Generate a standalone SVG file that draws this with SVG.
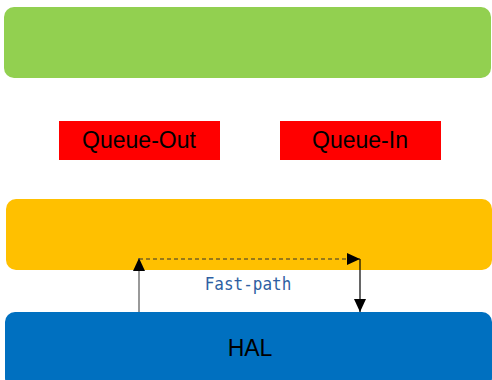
<svg xmlns="http://www.w3.org/2000/svg" width="492" height="380" viewBox="0 0 492 380">
<style>
.lbl{font-family:"Liberation Sans",Arial,sans-serif;font-size:23px;fill:#000;text-anchor:middle}
.fp{font-family:"DejaVu Sans Mono",monospace;font-size:16px;fill:#2e5fa3;text-anchor:middle}
</style>
<defs>
<marker id="ah" markerWidth="13" markerHeight="12" refX="13" refY="6" orient="auto" markerUnits="userSpaceOnUse">
<path d="M0,0 L13,6 L0,12 Z" fill="#000"/>
</marker>
</defs>
<g id="top"><rect x="4" y="7" width="487" height="71" rx="10" fill="#92d050"/></g>
<g id="queue-out"><rect x="59" y="121" width="161" height="39" fill="#ff0000"/><text class="lbl" x="139" y="148">Queue-Out</text></g>
<g id="queue-in"><rect x="280" y="121" width="161" height="39" fill="#ff0000"/><text class="lbl" x="360" y="148">Queue-In</text></g>
<g id="middle"><rect x="6" y="199" width="486" height="71" rx="10" fill="#ffc000"/></g>
<g id="hal"><rect x="5" y="312" width="487" height="76" rx="10" fill="#0070c0"/><text class="lbl" x="250" y="356">HAL</text></g>
<g id="connectors">
<line x1="139" y1="312" x2="139" y2="258" stroke="#777" stroke-width="1.5" marker-end="url(#ah)"/>
<line x1="139" y1="259" x2="360" y2="259" stroke="#333" stroke-width="1.2" stroke-dasharray="4,3" marker-end="url(#ah)"/>
<line x1="360" y1="259" x2="360" y2="312" stroke="#000" stroke-width="1.2" marker-end="url(#ah)"/>
<text class="fp" x="248" y="0" transform="translate(0,290) scale(1,1.15)">Fast-path</text>
</g>
</svg>
